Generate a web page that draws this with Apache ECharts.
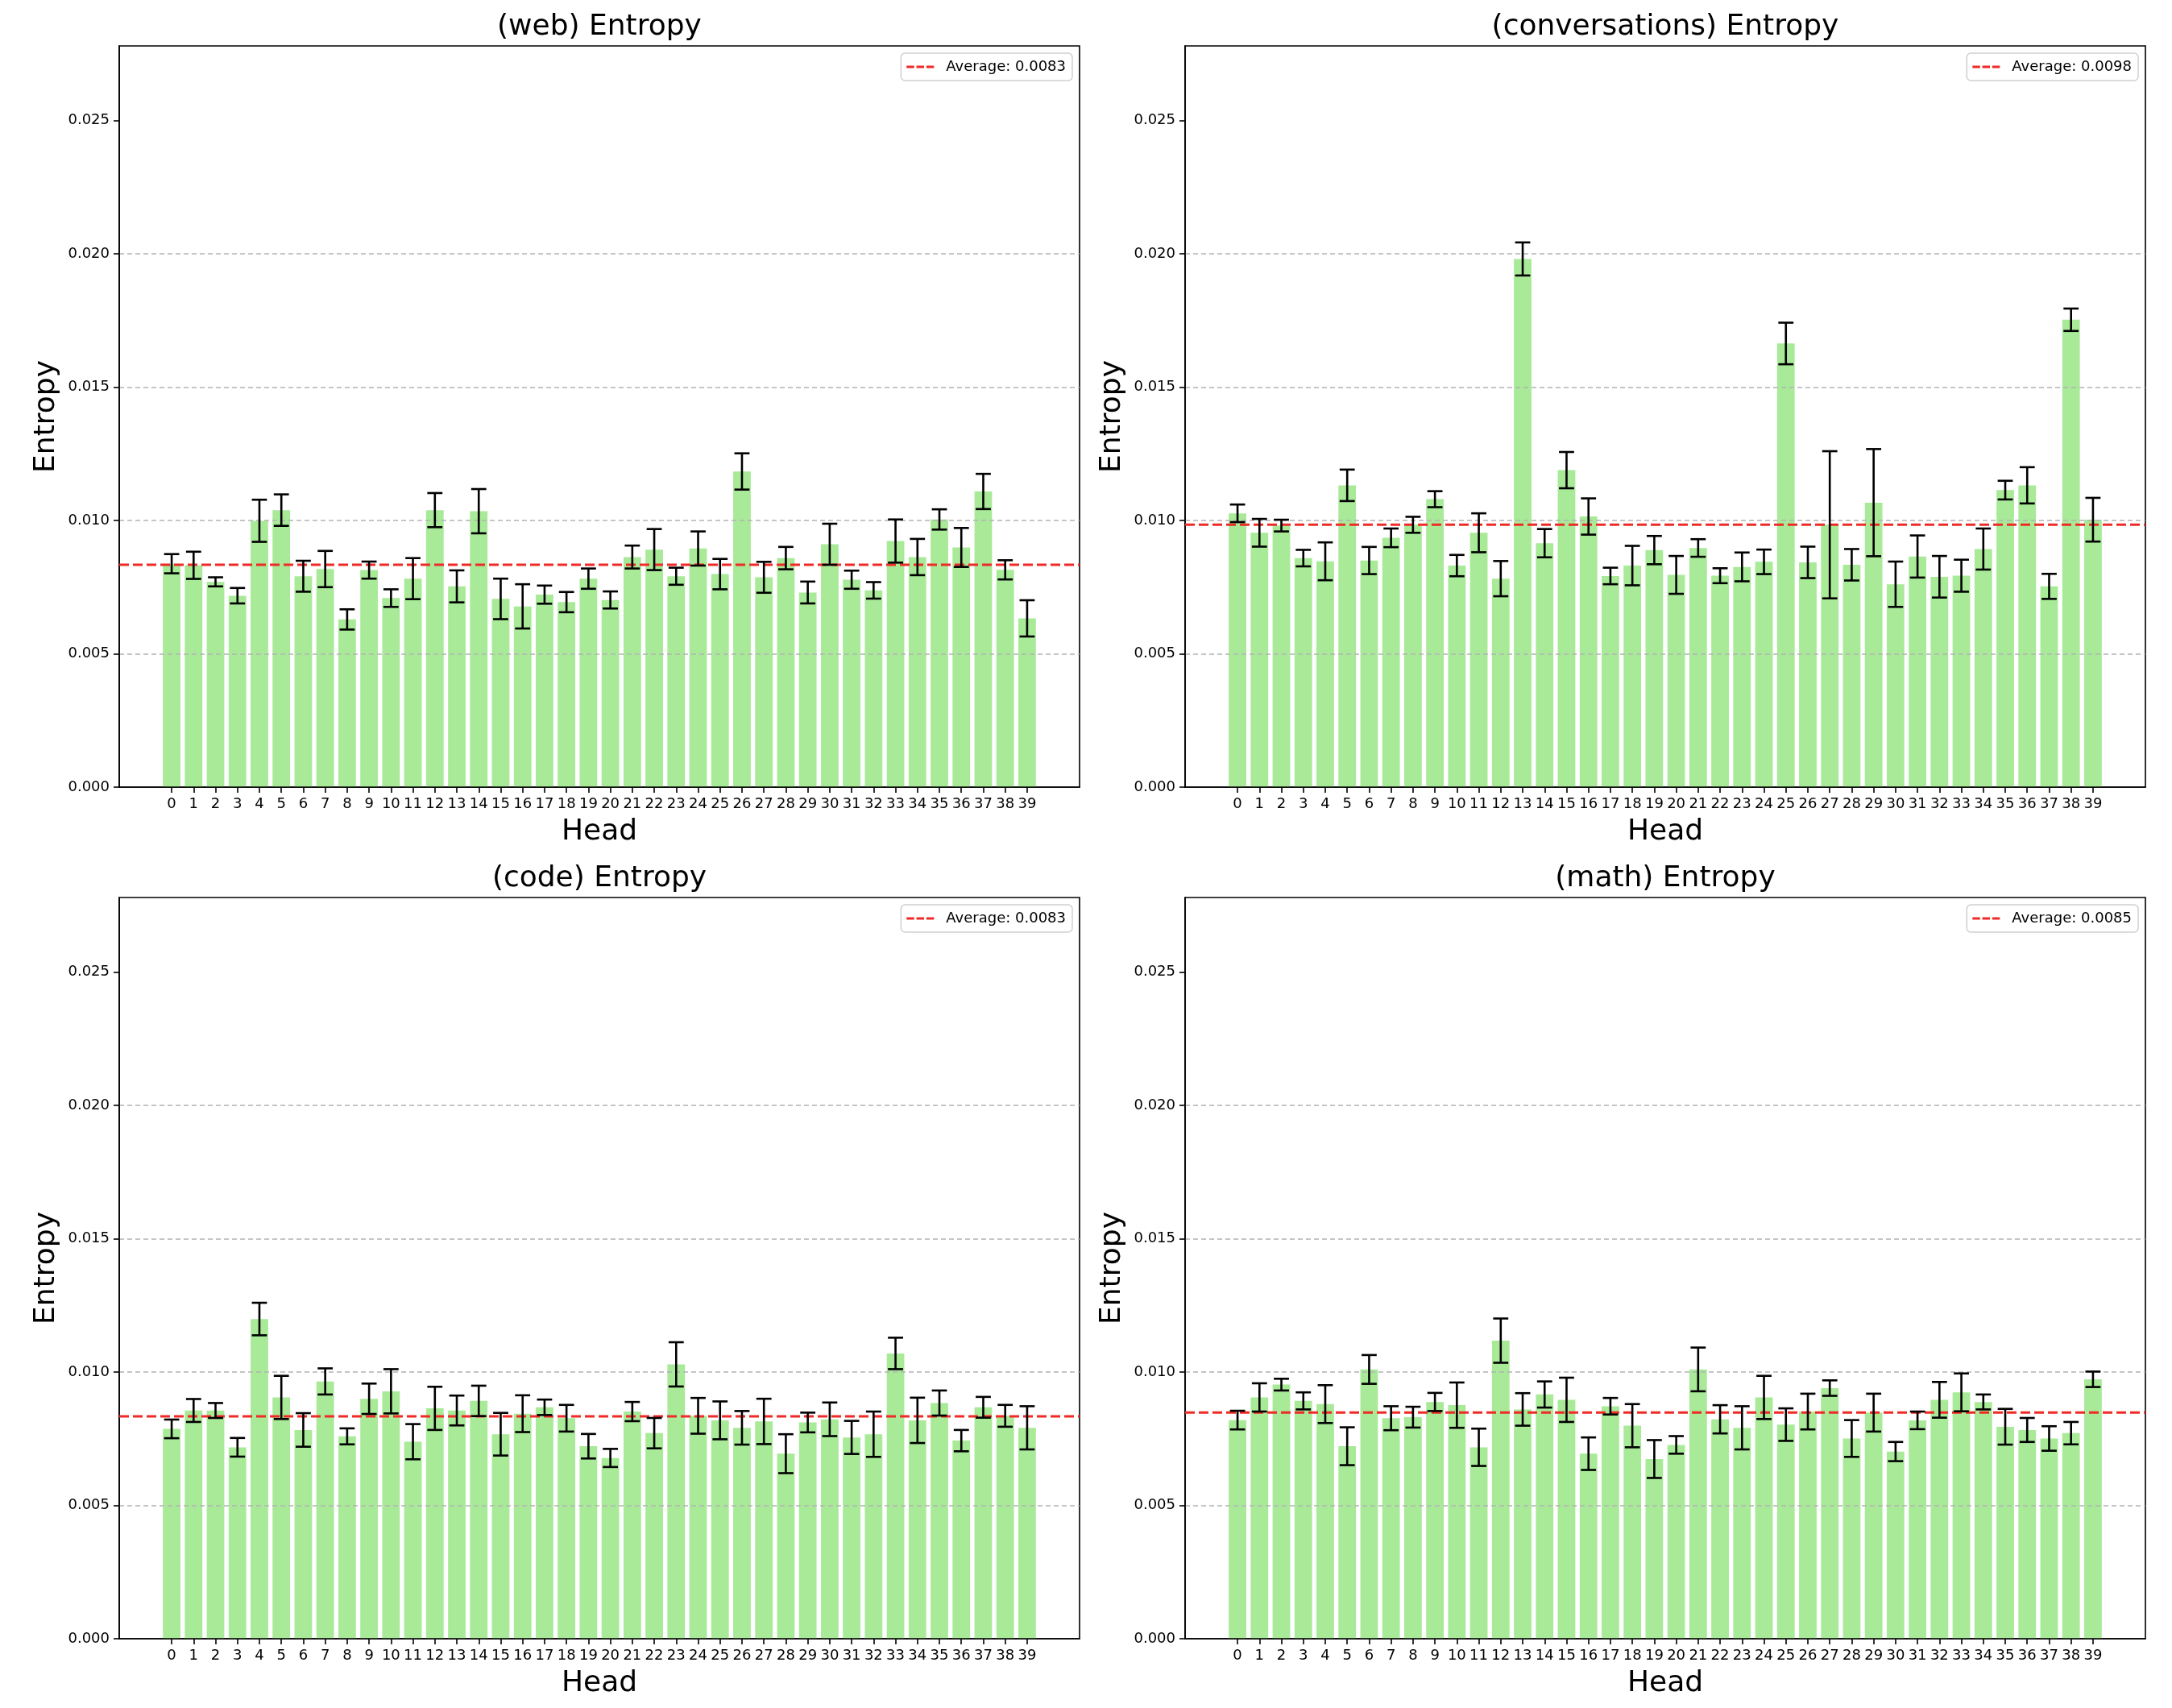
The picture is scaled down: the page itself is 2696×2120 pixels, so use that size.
<!DOCTYPE html>
<html>
<head>
<meta charset="utf-8">
<script src="https://cdn.jsdelivr.net/npm/echarts@6/dist/echarts.min.js"></script>
<style>html,body{margin:0;padding:0;background:#fff;}#c{width:2696px;height:2120px;}</style>
</head>
<body>
<div id="c"></div>
<script>
const heads = Array.from({length: 40}, (_, i) => i);
const yTicks = [0, 0.005, 0.010, 0.015, 0.020, 0.025];

const webMean = [0.00838,0.00832,0.00770,0.00718,0.00999,0.01039,0.00791,0.00818,0.00629,0.00814,0.00709,0.00782,0.01039,0.00753,0.01035,0.00706,0.00678,0.00722,0.00694,0.00782,0.00702,0.00863,0.00891,0.00791,0.00895,0.00799,0.01184,0.00787,0.00859,0.00730,0.00911,0.00778,0.00738,0.00923,0.00863,0.01004,0.00899,0.01109,0.00815,0.00633];
const webErr = [0.00036,0.00051,0.00017,0.00029,0.00079,0.00059,0.00058,0.00068,0.00038,0.00032,0.00033,0.00077,0.00064,0.00060,0.00083,0.00076,0.00083,0.00034,0.00038,0.00038,0.00032,0.00043,0.00077,0.00032,0.00064,0.00057,0.00068,0.00058,0.00042,0.00041,0.00077,0.00034,0.00031,0.00081,0.00068,0.00038,0.00073,0.00066,0.00036,0.00068];
const webAvg = 0.00834;

const convMean = [0.01027,0.00954,0.00981,0.00859,0.00847,0.01132,0.00850,0.00935,0.00984,0.01080,0.00831,0.00954,0.00782,0.01981,0.00915,0.01189,0.01015,0.00792,0.00831,0.00889,0.00796,0.00897,0.00793,0.00826,0.00845,0.01664,0.00843,0.00984,0.00834,0.01067,0.00761,0.00865,0.00789,0.00793,0.00893,0.01114,0.01132,0.00753,0.01753,0.01003];
const convErr = [0.00033,0.00052,0.00022,0.00031,0.00071,0.00059,0.00051,0.00035,0.00030,0.00030,0.00040,0.00073,0.00066,0.00062,0.00053,0.00068,0.00068,0.00031,0.00074,0.00053,0.00071,0.00033,0.00028,0.00054,0.00046,0.00078,0.00059,0.00276,0.00059,0.00201,0.00085,0.00079,0.00078,0.00060,0.00077,0.00035,0.00068,0.00047,0.00042,0.00082];
const convAvg = 0.00984;

const codeMean = [0.00787,0.00856,0.00856,0.00718,0.01199,0.00905,0.00783,0.00965,0.00759,0.00900,0.00928,0.00739,0.00864,0.00856,0.00892,0.00767,0.00844,0.00868,0.00827,0.00722,0.00678,0.00852,0.00771,0.01029,0.00836,0.00819,0.00791,0.00815,0.00694,0.00811,0.00823,0.00755,0.00767,0.01070,0.00819,0.00884,0.00743,0.00868,0.00836,0.00791];
const codeErr = [0.00035,0.00043,0.00028,0.00035,0.00061,0.00081,0.00063,0.00049,0.00030,0.00057,0.00083,0.00066,0.00081,0.00056,0.00057,0.00080,0.00069,0.00029,0.00050,0.00046,0.00034,0.00036,0.00057,0.00083,0.00067,0.00071,0.00063,0.00085,0.00073,0.00037,0.00063,0.00062,0.00085,0.00059,0.00085,0.00047,0.00040,0.00039,0.00041,0.00081];
const codeAvg = 0.00834;

const mathMean = [0.00820,0.00905,0.00953,0.00892,0.00880,0.00722,0.01010,0.00827,0.00831,0.00888,0.00876,0.00718,0.01118,0.00860,0.00916,0.00896,0.00694,0.00872,0.00799,0.00674,0.00727,0.01010,0.00823,0.00791,0.00905,0.00803,0.00852,0.00940,0.00751,0.00848,0.00702,0.00819,0.00896,0.00924,0.00888,0.00795,0.00783,0.00751,0.00771,0.00973];
const mathErr = [0.00035,0.00053,0.00022,0.00032,0.00071,0.00071,0.00054,0.00045,0.00039,0.00034,0.00085,0.00070,0.00083,0.00061,0.00049,0.00083,0.00061,0.00031,0.00081,0.00071,0.00033,0.00082,0.00053,0.00081,0.00081,0.00061,0.00067,0.00029,0.00069,0.00071,0.00036,0.00033,0.00067,0.00071,0.00028,0.00067,0.00045,0.00046,0.00042,0.00029];
const mathAvg = 0.00848;

const titles = ['(web) Entropy', '(conversations) Entropy', '(code) Entropy', '(math) Entropy'];

// layout
const FONT = 'DejaVu Sans';
const W = 1192, H = 920;
const panels = [
  {left: 148, top: 57, mean: webMean, err: webErr, avg: webAvg},
  {left: 1471, top: 57, mean: convMean, err: convErr, avg: convAvg},
  {left: 148, top: 1114, mean: codeMean, err: codeErr, avg: codeAvg},
  {left: 1471, top: 1114, mean: mathMean, err: mathErr, avg: mathAvg}
];
const XMIN = -2.39, XMAX = 41.39, YMAX = 0.0278;
const BAR_W = 0.8 * W / (XMAX - XMIN);
const CAP_HALF = 9.4;
const BAR_COLOR = '#a8ea98';
const AVG_COLOR = '#ee2b26';

const option = {
  animation: false,
  backgroundColor: '#fff',
  textStyle: {fontFamily: FONT},
  title: panels.map((p, i) => ({
    text: titles[i], left: p.left + W / 2, top: p.top - 41, textAlign: 'center', padding: 0,
    textStyle: {fontSize: 36, fontWeight: 'normal', color: '#000', fontFamily: FONT}
  })),
  legend: panels.map((p, i) => ({
    data: [{name: 'Average: ' + p.avg.toFixed(4),
            icon: 'path://M0,0h10v3h-10z M13,0h10v3h-10z M26,0h10v3h-10z'}],
    right: 2696 - (p.left + W - 9), top: p.top + 9,
    itemWidth: 34, itemHeight: 3,
    backgroundColor: '#fff', borderColor: '#d0d0d0', borderWidth: 1.5, borderRadius: 5,
    padding: [8, 8, 8, 7],
    selectedMode: false,
    textStyle: {fontSize: 18, color: '#000', fontFamily: FONT, padding: [0, 0, 0, 10]}
  })),
  grid: panels.map(p => ({
    left: p.left, top: p.top, width: W, height: H, show: true,
    borderColor: '#000', borderWidth: 1.6, backgroundColor: 'transparent'
  })),
  xAxis: panels.map((p, i) => ({
    type: 'value', gridIndex: i, min: XMIN, max: XMAX, z: 3,
    name: 'Head', nameLocation: 'middle', nameGap: 38,
    nameTextStyle: {fontSize: 36, color: '#000', fontFamily: FONT},
    axisLine: {show: true, onZero: false, lineStyle: {color: '#000', width: 1.6}},
    axisTick: {show: true, length: 7, customValues: heads, lineStyle: {color: '#000', width: 1.6}},
    axisLabel: {customValues: heads, fontSize: 18, color: '#000', margin: 12, fontFamily: FONT},
    splitLine: {show: false}
  })),
  yAxis: panels.map((p, i) => ({
    type: 'value', gridIndex: i, min: 0, max: YMAX, interval: 0.005, z: 3,
    name: 'Entropy', nameLocation: 'middle', nameGap: 72,
    nameTextStyle: {fontSize: 36, color: '#000', fontFamily: FONT},
    axisLine: {show: true, onZero: false, lineStyle: {color: '#000', width: 1.6}},
    axisTick: {show: true, length: 7, customValues: yTicks, lineStyle: {color: '#000', width: 1.6}},
    axisLabel: {customValues: yTicks, fontSize: 18, color: '#000', margin: 12, fontFamily: FONT,
                formatter: v => v.toFixed(3)},
    splitLine: {show: true, showMinLine: false, showMaxLine: false,
                lineStyle: {color: '#b3b3b3', type: [6, 4], width: 1.6}}
  })),
  series: []
};

panels.forEach((p, i) => {
  option.series.push({
    type: 'bar', xAxisIndex: i, yAxisIndex: i, z: 2,
    barWidth: BAR_W,
    itemStyle: {color: BAR_COLOR},
    data: heads.map(h => [h, p.mean[h]])
  });
  option.series.push({
    type: 'line', name: 'Average: ' + p.avg.toFixed(4), xAxisIndex: i, yAxisIndex: i, z: 4,
    symbol: 'none', silent: true,
    itemStyle: {color: AVG_COLOR},
    lineStyle: {color: AVG_COLOR, type: [12, 5], width: 3},
    data: [[XMIN, p.avg], [XMAX, p.avg]]
  });
  option.series.push({
    type: 'custom', xAxisIndex: i, yAxisIndex: i, z: 5, silent: true,
    encode: {x: 0, y: 1},
    data: heads.map(h => [h, p.mean[h], p.err[h]]),
    renderItem: (params, api) => {
      const x = api.value(0), y = api.value(1), e = api.value(2);
      const t = api.coord([x, y + e]);
      const b = api.coord([x, y - e]);
      const st = {stroke: '#000', lineWidth: 2.6};
      return {type: 'group', children: [
        {type: 'line', shape: {x1: t[0], y1: t[1], x2: b[0], y2: b[1]}, style: st},
        {type: 'line', shape: {x1: t[0] - CAP_HALF, y1: t[1], x2: t[0] + CAP_HALF, y2: t[1]}, style: st},
        {type: 'line', shape: {x1: b[0] - CAP_HALF, y1: b[1], x2: b[0] + CAP_HALF, y2: b[1]}, style: st}
      ]};
    }
  });
});

const chart = echarts.init(document.getElementById('c'), null, {renderer: 'canvas'});
chart.setOption(option);
</script>
</body>
</html>
